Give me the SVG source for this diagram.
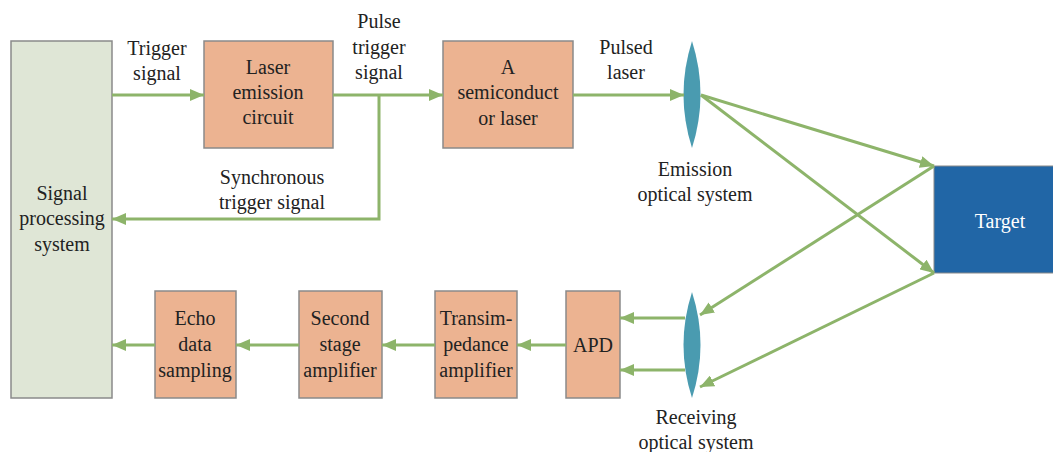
<svg xmlns="http://www.w3.org/2000/svg" width="1053" height="452" viewBox="0 0 1053 452">
<defs>
<marker id="ah" markerWidth="14" markerHeight="12" refX="14" refY="6" orient="auto" markerUnits="userSpaceOnUse">
<path d="M0,0 L14,6 L0,12 Z" fill="#8DB46A"/>
</marker>
<style>
.box{fill:#ECB391;stroke:#8a8a8a;stroke-width:1.5}
.sig{fill:#DFE6D6;stroke:#8a8a8a;stroke-width:1.5}
.lens{fill:#4A9BB0}
.t{font-family:'Liberation Serif', 'Times New Roman', serif;font-size:20px;fill:#222;text-anchor:middle}
.c{fill:none;stroke:#8DB46A;stroke-width:3;marker-end:url(#ah)}
</style>
</defs>
<rect width="1053" height="452" fill="#fff"/>
<g id="signal-processing">
<rect class="sig" x="11" y="41" width="101" height="357"/>
<text class="t" x="62" y="200">Signal</text>
<text class="t" x="62" y="225">processing</text>
<text class="t" x="62" y="251">system</text>
</g>
<g id="laser-emission">
<rect class="box" x="204" y="41" width="129" height="107"/>
<text class="t" x="268" y="74">Laser</text>
<text class="t" x="268" y="99">emission</text>
<text class="t" x="268" y="124">circuit</text>
</g>
<g id="semiconductor-laser">
<rect class="box" x="443" y="41" width="130" height="107"/>
<text class="t" x="508" y="74">A</text>
<text class="t" x="508" y="99">semiconduct</text>
<text class="t" x="508" y="125">or laser</text>
</g>
<g id="emission-lens">
<path class="lens" d="M692,41 Q709,94.5 692,148 Q675,94.5 692,41 Z"/>
<text class="t" x="695" y="176">Emission</text>
<text class="t" x="695" y="201">optical system</text>
</g>
<g id="target">
<rect x="934" y="166" width="122" height="107" fill="#2166A6" stroke="#8a8a8a" stroke-width="1"/>
<text class="t" x="1000" y="228" style="fill:#fff">Target</text>
</g>
<g id="receiving-lens">
<path class="lens" d="M692,292 Q709,345 692,398 Q675,345 692,292 Z"/>
<text class="t" x="696" y="424">Receiving</text>
<text class="t" x="696" y="449">optical system</text>
</g>
<g id="apd">
<rect class="box" x="566" y="291" width="54" height="107"/>
<text class="t" x="593" y="352">APD</text>
</g>
<g id="transimpedance">
<rect class="box" x="435" y="291" width="82" height="107"/>
<text class="t" x="476" y="325">Transim-</text>
<text class="t" x="476" y="351">pedance</text>
<text class="t" x="476" y="377">amplifier</text>
</g>
<g id="second-stage">
<rect class="box" x="299" y="291" width="83" height="107"/>
<text class="t" x="340" y="325">Second</text>
<text class="t" x="340" y="351">stage</text>
<text class="t" x="340" y="377">amplifier</text>
</g>
<g id="echo-sampling">
<rect class="box" x="155" y="291" width="81" height="107"/>
<text class="t" x="195" y="325">Echo</text>
<text class="t" x="195" y="351">data</text>
<text class="t" x="195" y="377">sampling</text>
</g>
<g id="connectors">
<path class="c" d="M112,95 L204,95"/>
<path class="c" d="M333,95 L443,95"/>
<path class="c" d="M573,95 L684,95"/>
<path class="c" d="M379,95 L379,219 L112,219"/>
<path class="c" d="M701,95 L934,166"/>
<path class="c" d="M701,95 L934,273"/>
<path class="c" d="M934,166 L700,315"/>
<path class="c" d="M934,273 L700,387"/>
<path class="c" d="M685,318 L620,318"/>
<path class="c" d="M685,370 L620,370"/>
<path class="c" d="M566,345 L517,345"/>
<path class="c" d="M435,345 L382,345"/>
<path class="c" d="M299,345 L236,345"/>
<path class="c" d="M155,345 L112,345"/>
</g>
<g id="labels">
<text class="t" x="157" y="55">Trigger</text>
<text class="t" x="157" y="80">signal</text>
<text class="t" x="379" y="28">Pulse</text>
<text class="t" x="379" y="54">trigger</text>
<text class="t" x="379" y="79">signal</text>
<text class="t" x="626" y="54">Pulsed</text>
<text class="t" x="626" y="79">laser</text>
<text class="t" x="272" y="184">Synchronous</text>
<text class="t" x="272" y="209">trigger signal</text>
</g>
</svg>
